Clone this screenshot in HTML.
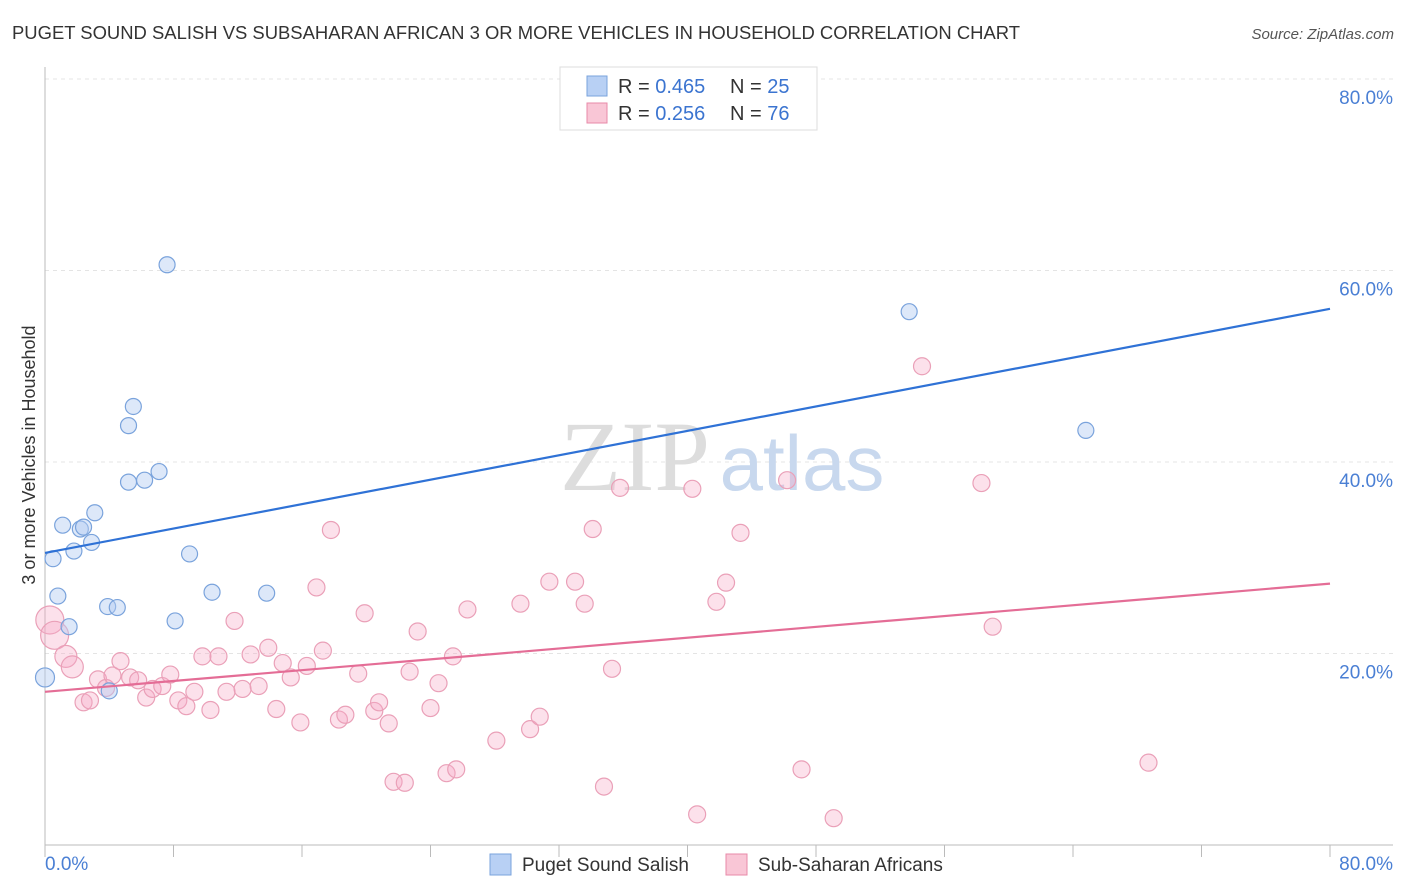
<!DOCTYPE html>
<html><head><meta charset="utf-8"><style>
body{margin:0;background:#fff;font-family:"Liberation Sans",sans-serif;}
svg{display:block}
</style></head><body>
<svg width="1406" height="892" xmlns="http://www.w3.org/2000/svg">
<text x="12" y="39" font-size="18" fill="#333" textLength="1008" lengthAdjust="spacingAndGlyphs">PUGET SOUND SALISH VS SUBSAHARAN AFRICAN 3 OR MORE VEHICLES IN HOUSEHOLD CORRELATION CHART</text>
<text x="1394" y="39" font-size="15" fill="#555" text-anchor="end" font-style="italic">Source: ZipAtlas.com</text>
<g id="grid"></g>
<g><text x="635" y="490" font-size="100" fill="#ddd" text-anchor="middle" font-family="Liberation Serif">ZIP</text><text x="802" y="490" font-size="78" fill="#c8d8ee" text-anchor="middle">atlas</text></g>
<g id="axes"></g>
<g id="pts"></g>
<g id="lines"></g>
<text x="35" y="455" font-size="18" fill="#333" text-anchor="middle" transform="rotate(-90 35 455)">3 or more Vehicles in Household</text>
<g>
<rect x="560" y="67" width="257" height="63" fill="#fff" stroke="#ddd"/>
<rect x="587" y="76" width="20" height="20" fill="#b8d0f4" stroke="#7aa3dc"/>
<text x="618" y="93" font-size="20" fill="#333">R = <tspan fill="#3b74d0">0.465</tspan></text>
<text x="730" y="93" font-size="20" fill="#333">N = <tspan fill="#3b74d0">25</tspan></text>
<rect x="587" y="103" width="20" height="20" fill="#f9c6d6" stroke="#e88aa8"/>
<text x="618" y="120" font-size="20" fill="#333">R = <tspan fill="#3b74d0">0.256</tspan></text>
<text x="730" y="120" font-size="20" fill="#333">N = <tspan fill="#3b74d0">76</tspan></text>
</g>
<g>
<rect x="490" y="854" width="21" height="21" fill="#b8d0f4" stroke="#7aa3dc"/>
<text x="522" y="871" font-size="19" fill="#333">Puget Sound Salish</text>
<rect x="726" y="854" width="21" height="21" fill="#f9c6d6" stroke="#e88aa8"/>
<text x="758" y="871" font-size="19" fill="#333">Sub-Saharan Africans</text>
</g>
</svg>
<script>
const yTicks=[20,40,60,80];
const yTickLabels=["20.0%","40.0%","60.0%","80.0%"];
const blueX=[0,0.5,0.8,1.1,1.5,1.8,2.2,2.4,2.9,3.1,3.9,4.5,4.0,5.2,5.5,5.2,6.2,7.1,7.6,9.0,8.1,10.4,13.8,53.8,64.8];
const blueY=[17.5,29.9,26.0,33.4,22.8,30.7,33.0,33.2,31.6,34.7,24.9,24.8,16.1,43.8,45.8,37.9,38.1,39.0,60.6,30.4,23.4,26.4,26.3,55.7,43.3];
const pinkX=[0.3,0.6,1.3,1.7,2.4,2.8,3.3,3.8,4.2,4.7,5.3,5.8,6.3,6.7,7.3,7.8,8.3,8.8,9.3,9.8,10.3,10.8,11.3,11.8,12.3,12.8,13.3,13.9,14.4,14.8,15.3,15.9,16.3,16.9,17.3,17.8,18.3,18.7,19.5,19.9,20.5,20.8,21.4,21.7,22.4,22.7,23.2,24.0,24.5,25.0,25.4,25.6,26.3,28.1,29.6,30.2,30.8,31.4,33.0,33.6,34.1,34.8,35.3,35.8,40.3,40.6,41.8,42.4,43.3,46.2,47.1,49.1,54.6,58.3,59.0,68.7];
const pinkY=[23.5,21.9,19.7,18.6,14.9,15.1,17.3,16.4,17.7,19.2,17.5,17.2,15.4,16.3,16.6,17.8,15.1,14.5,16.0,19.7,14.1,19.7,16.0,23.4,16.3,19.9,16.6,20.6,14.2,19.0,17.5,12.8,18.7,26.9,20.3,32.9,13.1,13.6,17.9,24.2,14.0,14.9,12.7,6.6,6.5,18.1,22.3,14.3,16.9,7.5,19.7,7.9,24.6,10.9,25.2,12.1,13.4,27.5,27.5,25.2,33.0,6.1,18.4,37.3,37.2,3.2,25.4,27.4,32.6,38.1,7.9,2.8,50.0,37.8,22.8,8.6];
const blueTrend=[30.5,56.0];
const pinkTrend=[16.0,27.3];
const NS="http://www.w3.org/2000/svg";
const X=v=>45+v*16.0625, Y=v=>845-v*9.575;
function mk(t,a,p){const e=document.createElementNS(NS,t);for(const k in a)e.setAttribute(k,a[k]);p.appendChild(e);return e;}
const grid=document.getElementById('grid'),axes=document.getElementById('axes');
yTicks.forEach((t,i)=>{
 const l=mk('line',{x1:45,x2:1393,y1:Y(t),y2:Y(t),stroke:'#e4e4e4','stroke-dasharray':'4,4'},grid);
 
 
 const tx=mk('text',{x:1393,y:Y(t)+25,'font-size':19,fill:'#4a7fd4','text-anchor':'end'},axes);
 tx.textContent=yTickLabels[i];
 
 
});
mk('line',{x1:45,x2:45,y1:67,y2:845,stroke:'#bbb'},axes);
mk('line',{x1:45,x2:1393,y1:845,y2:845,stroke:'#bbb'},axes);
for(let i=0;i<=10;i++){const l=mk('line',{x1:X(i*8),x2:X(i*8),y1:845,y2:857,stroke:'#bbb'},axes);
 
 }
const x0=mk('text',{x:45,y:870,'font-size':19,fill:'#4a7fd4'},axes);x0.textContent='0.0%';


const x1=mk('text',{x:1393,y:870,'font-size':19,fill:'#4a7fd4','text-anchor':'end'},axes);x1.textContent='80.0%';


const pts=document.getElementById('pts');
pinkX.forEach((v,i)=>{const r=i<2?14:(i<4?11:8.5);
 const c=mk('circle',{cx:X(v),cy:Y(pinkY[i]),r:r,fill:'rgba(246,170,198,0.35)',stroke:'#eaa0b8','stroke-width':1.2},pts);
 
 });
blueX.forEach((v,i)=>{
 const c=mk('circle',{cx:X(v),cy:Y(blueY[i]),r:i==0?9.5:8,fill:'rgba(180,205,242,0.45)',stroke:'#7aa3dc','stroke-width':1.2},pts);
 
 });
const lines=document.getElementById('lines');
const bl=mk('line',{x1:X(0),y1:Y(blueTrend[0]),x2:X(80),y2:Y(blueTrend[1]),stroke:'#2f72d6','stroke-width':2.2},lines);


const pl=mk('line',{x1:X(0),y1:Y(pinkTrend[0]),x2:X(80),y2:Y(pinkTrend[1]),stroke:'#e46d96','stroke-width':2.2},lines);


</script>
</body></html>
